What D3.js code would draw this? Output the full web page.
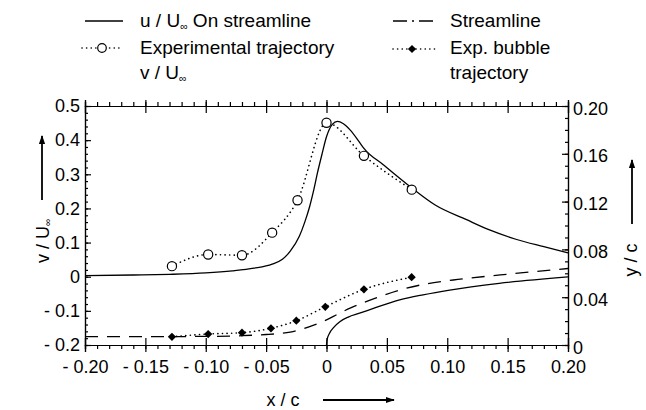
<!DOCTYPE html>
<html>
<head>
<meta charset="utf-8">
<script src="https://cdn.jsdelivr.net/npm/d3@7"></script>
<style>
  body { margin: 0; background: #fff; }
  svg { display: block; font-family: "Liberation Sans", Arial, sans-serif; }
  .axis path, .axis line { stroke: #000; stroke-width: 1.2; }
  .axis text { font-size: 18px; fill: #000; }
</style>
</head>
<body>
<svg id="chart" width="646" height="410"></svg>
<script>
// u/U_inf on streamline (left axis)
var uLineX = [-0.2, -0.16, -0.13, -0.1, -0.078, -0.06, -0.045, -0.0365, -0.03, -0.0224, -0.018, -0.014, -0.0105, -0.0075, -0.004, 0, 0.005, 0.009, 0.014, 0.0195, 0.0277, 0.031, 0.047, 0.0706, 0.09, 0.116, 0.135, 0.1575, 0.18, 0.2];
var uLineY = [0.003, 0.005, 0.007, 0.011, 0.017, 0.025, 0.037, 0.051, 0.075, 0.119, 0.16, 0.205, 0.255, 0.304, 0.355, 0.41, 0.447, 0.455, 0.448, 0.43, 0.392, 0.376, 0.328, 0.26, 0.21, 0.167, 0.137, 0.109, 0.088, 0.07];

// experimental trajectory v/U_inf (left axis)
var expX = [-0.128, -0.098, -0.07, -0.045, -0.024, 0, 0.031, 0.0706];
var expY = [0.031, 0.065, 0.063, 0.129, 0.224, 0.451, 0.354, 0.255];

// streamline y/c (right axis)
var streamX = [-0.2, -0.15, -0.1, -0.07, -0.05, -0.04, -0.03, -0.02, -0.01, 0, 0.01, 0.02, 0.04, 0.066, 0.105, 0.144, 0.2];
var streamY = [0.007, 0.007, 0.0072, 0.0078, 0.0088, 0.0095, 0.0108, 0.0133, 0.0168, 0.021, 0.0262, 0.031, 0.039, 0.0475, 0.0544, 0.0586, 0.064];

// lower solid line y/c (right axis)
var lowX = [0, 0.0005, 0.0025, 0.006, 0.011, 0.018, 0.0274, 0.04, 0.0606, 0.08, 0.102, 0.143, 0.2];
var lowY = [0, 0.0045, 0.0098, 0.0148, 0.0195, 0.0234, 0.0266, 0.031, 0.0377, 0.042, 0.046, 0.0516, 0.057];

// exp. bubble trajectory y/c (right axis)
var bubbleX = [-0.128, -0.098, -0.07, -0.046, -0.025, -0.001, 0.031, 0.0705];
var bubbleY = [0.0069, 0.0092, 0.0103, 0.014, 0.0203, 0.032, 0.0466, 0.0567];

// ticks
var xTicks = [-0.2, -0.15, -0.1, -0.05, 0, 0.05, 0.1, 0.15, 0.2];
var xTickLabels = ["- 0.20", "- 0.15", "- 0.10", "- 0.05", "0", "0.05", "0.10", "0.15", "0.20"];
var yLeftTicks = [-0.2, -0.1, 0, 0.1, 0.2, 0.3, 0.4, 0.5];
var yLeftTickLabels = ["- 0.2", "- 0.1", "0", "0.1", "0.2", "0.3", "0.4", "0.5"];
var yRightTicks = [0, 0.04, 0.08, 0.12, 0.16, 0.2];
var yRightTickLabels = ["0", "0.04", "0.08", "0.12", "0.16", "0.20"];

var plotL = 85, plotR = 568, plotT = 106, plotB = 345;
var svg = d3.select("#chart");

var x = d3.scaleLinear().domain([-0.2, 0.2]).range([plotL, plotR]);
var yL = d3.scaleLinear().domain([-0.2, 0.5]).range([plotB, plotT]);
var yR = d3.scaleLinear().domain([0, 0.2]).range([plotB, plotT]);

var xMinor = d3.range(-20, 21).map(function(d) { return d / 100; });
var yLMinor = d3.range(-10, 26).map(function(d) { return d / 50; });
var yRMinor = d3.range(0, 21).map(function(d) { return d / 100; });

function labelOf(ticks, labels) {
  return function(d) {
    var i = ticks.findIndex(function(t) { return Math.abs(t - d) < 1e-9; });
    return i < 0 ? "" : labels[i];
  };
}

//bottom axis: minor outward, major crossing
svg.append("g").attr("class", "axis").attr("transform", "translate(0," + plotB + ")")
  .call(d3.axisBottom(x).tickValues(xMinor).tickSize(4).tickFormat(""));
svg.append("g").attr("class", "axis").attr("transform", "translate(0," + plotB + ")")
  .call(d3.axisBottom(x).tickValues(xTicks).tickSize(-7).tickFormat(""));
svg.append("g").attr("class", "axis").attr("transform", "translate(0," + plotB + ")")
  .call(d3.axisBottom(x).tickValues(xTicks).tickSize(7).tickPadding(8)
    .tickFormat(labelOf(xTicks, xTickLabels)));

//top axis
svg.append("g").attr("class", "axis").attr("transform", "translate(0," + plotT + ")")
  .call(d3.axisTop(x).tickValues(xMinor).tickSize(4).tickFormat(""));
svg.append("g").attr("class", "axis").attr("transform", "translate(0," + plotT + ")")
  .call(d3.axisTop(x).tickValues(xTicks).tickSize(-7).tickFormat(""));
svg.append("g").attr("class", "axis").attr("transform", "translate(0," + plotT + ")")
  .call(d3.axisTop(x).tickValues(xTicks).tickSize(6).tickFormat(""));

//left axis
svg.append("g").attr("class", "axis").attr("transform", "translate(" + plotL + ",0)")
  .call(d3.axisLeft(yL).tickValues(yLMinor).tickSize(-3).tickFormat(""));
svg.append("g").attr("class", "axis").attr("transform", "translate(" + plotL + ",0)")
  .call(d3.axisLeft(yL).tickValues(yLeftTicks).tickSize(-6).tickPadding(5)
    .tickFormat(labelOf(yLeftTicks, yLeftTickLabels)));

//right axis
svg.append("g").attr("class", "axis").attr("transform", "translate(" + plotR + ",0)")
  .call(d3.axisRight(yR).tickValues(yRMinor).tickSize(-3).tickFormat(""));
var rAxis = svg.append("g").attr("class", "axis").attr("transform", "translate(" + plotR + ",0)")
  .call(d3.axisRight(yR).tickValues(yRightTicks).tickSize(-6).tickPadding(5)
    .tickFormat(labelOf(yRightTicks, yRightTickLabels)));
rAxis.selectAll("text").attr("dy", "0.45em");

//lines
function lineOn(xs, ys, yScale) {
  return d3.line().curve(d3.curveMonotoneX)
    .x(function(d, i) { return x(xs[i]); })
    .y(function(d, i) { return yScale(ys[i]); })(xs);
}

svg.append("path").attr("d", lineOn(uLineX, uLineY, yL))
  .attr("fill", "none").attr("stroke", "#000").attr("stroke-width", 1.3);
svg.append("path").attr("d", lineOn(lowX, lowY, yR))
  .attr("fill", "none").attr("stroke", "#000").attr("stroke-width", 1.3);
svg.append("path").attr("d", lineOn(streamX, streamY, yR))
  .attr("fill", "none").attr("stroke", "#000").attr("stroke-width", 1.3)
  .attr("stroke-dasharray", "13,9");
svg.append("path").attr("d", lineOn(expX, expY, yL))
  .attr("fill", "none").attr("stroke", "#000").attr("stroke-width", 1.6)
  .attr("stroke-linecap", "round").attr("stroke-dasharray", "0.1,4.5");
svg.append("path").attr("d", lineOn(bubbleX, bubbleY, yR))
  .attr("fill", "none").attr("stroke", "#000").attr("stroke-width", 1.6)
  .attr("stroke-linecap", "round").attr("stroke-dasharray", "0.1,4.5");

//markers (square turned 45deg gives a regular diamond)
var diamond = d3.symbol().type(d3.symbolSquare).size(34);
svg.selectAll(".bubble").data(bubbleX).enter().append("path")
  .attr("class", "bubble")
  .attr("d", diamond)
  .attr("transform", function(d, i) { return "translate(" + x(d) + "," + yR(bubbleY[i]) + ") rotate(45)"; })
  .attr("fill", "#000");
svg.selectAll(".exp").data(expX).enter().append("circle")
  .attr("class", "exp")
  .attr("cx", function(d) { return x(d); })
  .attr("cy", function(d, i) { return yL(expY[i]); })
  .attr("r", 4.6)
  .attr("fill", "#fff").attr("stroke", "#000").attr("stroke-width", 1.2);

//axis titles with arrows
svg.append("defs").append("marker")
  .attr("id", "arrow").attr("viewBox", "0 0 10 10").attr("refX", 9).attr("refY", 5)
  .attr("markerWidth", 9).attr("markerHeight", 9).attr("markerUnits", "userSpaceOnUse")
  .attr("orient", "auto")
  .append("path").attr("d", "M0,1.5 L10,5 L0,8.5 Z").attr("fill", "#000");

function infText(sel, before, after) {
  sel.append("tspan").text(before);
  sel.append("tspan").text("\u221E").attr("font-size", "0.55em").attr("dy", "0.25em");
  if (after) sel.append("tspan").text(after).attr("dy", "-0.14em");
}

var lt = svg.append("text").attr("transform", "translate(49,241) rotate(-90)")
  .attr("text-anchor", "middle").attr("font-size", 18);
infText(lt, "v / U", null);
svg.append("line").attr("x1", 42).attr("y1", 200).attr("x2", 42).attr("y2", 136)
  .attr("stroke", "#000").attr("stroke-width", 1.8).attr("marker-end", "url(#arrow)");

svg.append("text").attr("transform", "translate(637,260) rotate(-90)")
  .attr("text-anchor", "middle").attr("font-size", 18).text("y / c");
svg.append("line").attr("x1", 632).attr("y1", 224).attr("x2", 632).attr("y2", 160)
  .attr("stroke", "#000").attr("stroke-width", 1.8).attr("marker-end", "url(#arrow)");

svg.append("text").attr("x", 283).attr("y", 406)
  .attr("text-anchor", "middle").attr("font-size", 18).text("x / c");
svg.append("line").attr("x1", 323).attr("y1", 400).attr("x2", 394).attr("y2", 400)
  .attr("stroke", "#000").attr("stroke-width", 1.8).attr("marker-end", "url(#arrow)");

//legend
var lg = svg.append("g").attr("font-size", 19);
lg.append("line").attr("x1", 85).attr("x2", 123).attr("y1", 21).attr("y2", 21)
  .attr("stroke", "#000").attr("stroke-width", 1.3);
infText(lg.append("text").attr("x", 140).attr("y", 27), "u / U", " On streamline");

lg.append("line").attr("x1", 82).attr("x2", 121).attr("y1", 48).attr("y2", 48)
  .attr("stroke", "#000").attr("stroke-width", 1.6).attr("stroke-linecap", "round")
  .attr("stroke-dasharray", "0.1,4.5");
lg.append("circle").attr("cx", 102).attr("cy", 48).attr("r", 4.3)
  .attr("fill", "#fff").attr("stroke", "#000").attr("stroke-width", 1.2);
lg.append("text").attr("x", 140).attr("y", 54).text("Experimental trajectory");
infText(lg.append("text").attr("x", 140).attr("y", 79), "v / U", null);

lg.append("line").attr("x1", 393).attr("x2", 433).attr("y1", 21).attr("y2", 21)
  .attr("stroke", "#000").attr("stroke-width", 1.3).attr("stroke-dasharray", "14,5,2,5,14");
lg.append("text").attr("x", 450).attr("y", 27).text("Streamline");

lg.append("line").attr("x1", 393).attr("x2", 437).attr("y1", 49).attr("y2", 49)
  .attr("stroke", "#000").attr("stroke-width", 1.6).attr("stroke-linecap", "round")
  .attr("stroke-dasharray", "0.1,4.5");
lg.append("path").attr("d", diamond).attr("transform", "translate(412,49) rotate(45)").attr("fill", "#000");
lg.append("text").attr("x", 450).attr("y", 54).text("Exp. bubble");
lg.append("text").attr("x", 450).attr("y", 79).text("trajectory");
</script>
</body>
</html>
